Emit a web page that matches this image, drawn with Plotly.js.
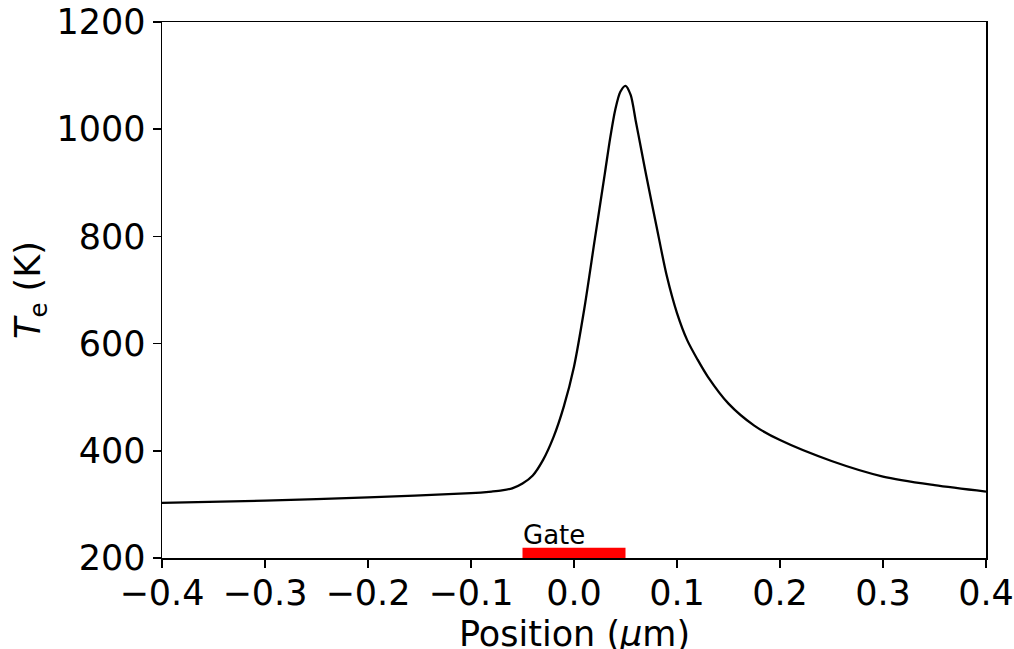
<!DOCTYPE html>
<html>
<head>
<meta charset="utf-8">
<script src="https://cdn.plot.ly/plotly-3.0.1.min.js"></script>
<style>html,body{margin:0;padding:0;background:#fff;}</style>
</head>
<body>
<div id="chart" style="width:1014px;height:649px;"></div>
<script>
const position = [-0.4, -0.3, -0.2, -0.1, -0.08, -0.07, -0.06, -0.05, -0.04, -0.03, -0.02, -0.01, 0.0, 0.01, 0.02, 0.03, 0.035, 0.04, 0.045, 0.05, 0.055, 0.06, 0.065, 0.07, 0.08, 0.09, 0.1, 0.11, 0.12, 0.13, 0.15, 0.175, 0.2, 0.25, 0.3, 0.35, 0.4];
const electronTemp = [303, 307, 313, 321, 324, 326, 330, 339, 354, 383, 425, 482, 557, 665, 792, 918, 982, 1036, 1070, 1081, 1064, 1015, 965, 915, 820, 727, 657, 606, 570, 538, 488, 447, 420, 381, 352, 336, 324];
const gateX = [-0.05, 0.05];
const gateY = [200, 219];
const gateLabel = "Gate";
const xTitle = 'Position (<i>\u03bc</i>m)';
const yTitle = '<i>T</i><sub>e</sub> (K)';
const xTicks = [-0.4, -0.3, -0.2, -0.1, 0.0, 0.1, 0.2, 0.3, 0.4];
const xTickText = ["\u22120.4", "\u22120.3", "\u22120.2", "\u22120.1", "0.0", "0.1", "0.2", "0.3", "0.4"];
const yTicks = [200, 400, 600, 800, 1000, 1200];

const font = "DejaVu Sans, sans-serif";
const fs = 35;
const traces = [{
  x: position, y: electronTemp, type: 'scatter', mode: 'lines',
  line: {color: '#000', width: 2.3, shape: 'spline', smoothing: 0.8}, hoverinfo: 'skip'
}];
const layout = {
  width: 1014, height: 649,
  margin: {l: 162, r: 28, t: 22, b: 91},
  paper_bgcolor: '#fff', plot_bgcolor: '#fff',
  showlegend: false,
  font: {family: font, color: '#000', size: fs},
  xaxis: {
    range: [-0.4, 0.4], tickvals: xTicks, ticktext: xTickText,
    showgrid: false, zeroline: false,
    showline: true, mirror: true, linecolor: '#000', linewidth: 1.5,
    ticks: 'outside', ticklen: 8, tickwidth: 1.5, tickcolor: '#000',
    ticklabelstandoff: -5,
    tickfont: {family: font, size: fs, color: '#000'}
  },
  yaxis: {
    range: [200, 1200], tickvals: yTicks,
    showgrid: false, zeroline: false,
    showline: true, mirror: true, linecolor: '#000', linewidth: 1.5,
    ticks: 'outside', ticklen: 8, tickwidth: 1.5, tickcolor: '#000',
    tickfont: {family: font, size: fs, color: '#000'}
  },
  shapes: [{
    type: 'rect', xref: 'x', yref: 'y',
    x0: gateX[0], x1: gateX[1], y0: gateY[0], y1: gateY[1],
    fillcolor: '#ff0000', line: {width: 0}, layer: 'above'
  }],
  annotations: [{
    x: gateX[0], y: gateY[1], xref: 'x', yref: 'y',
    text: gateLabel, showarrow: false, xanchor: 'left', yanchor: 'bottom',
    xshift: -2, yshift: -4,
    font: {family: font, size: 26, color: '#000'}
  }, {
    x: 0.5, y: 0, xref: 'paper', yref: 'paper',
    text: xTitle, showarrow: false, xanchor: 'center', yanchor: 'middle',
    yshift: -76,
    font: {family: font, size: fs, color: '#000'}
  }, {
    x: 0, y: 0.5, xref: 'paper', yref: 'paper',
    text: yTitle, showarrow: false, textangle: -90, xanchor: 'center', yanchor: 'middle',
    xshift: -132,
    font: {family: font, size: fs, color: '#000'}
  }]
};
Plotly.newPlot('chart', traces, layout, {staticPlot: true, displayModeBar: false});
</script>
</body>
</html>
